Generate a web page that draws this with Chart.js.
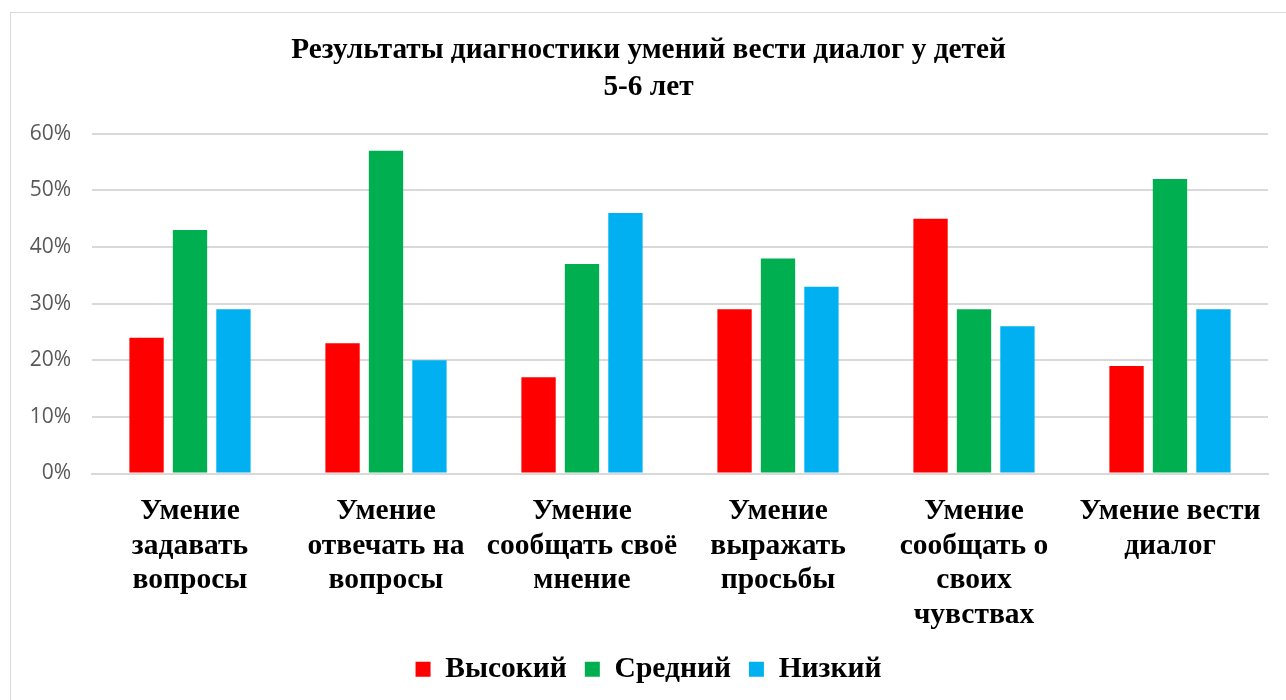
<!DOCTYPE html>
<html lang="ru">
<head>
<meta charset="utf-8">
<title>Результаты диагностики умений вести диалог</title>
<script src="https://cdn.jsdelivr.net/npm/chart.js@4"></script>
<style>
    html, body { margin: 0; padding: 0; background: #fff; overflow: hidden; }
    #frame {
        position: absolute; left: 10px; top: 12px;
        width: 1290px; height: 700px;
        border: 1px solid #d9d9d9; box-sizing: border-box;
    }
    #wrap { position: absolute; left: 0; top: 0; width: 1286px; height: 700px; }
</style>
</head>
<body>
<div id="frame"></div>
<div id="wrap"><canvas id="diagChart"></canvas></div>
<script>
// =============================================
// Данные диаграммы
// =============================================

var categories = [
    ["Умение", "задавать", "вопросы"],
    ["Умение", "отвечать на", "вопросы"],
    ["Умение", "сообщать своё", "мнение"],
    ["Умение", "выражать", "просьбы"],
    ["Умение", "сообщать о", "своих", "чувствах"],
    ["Умение вести", "диалог"]
];

var seriesNames = ["Высокий", "Средний", "Низкий"];
var highValues = [24, 23, 17, 29, 45, 19];
var mediumValues = [43, 57, 37, 38, 29, 52];
var lowValues = [29, 20, 46, 33, 26, 29];
var seriesColors = ["#ff0000", "#00b050", "#00b0f0"];

var titleLines = ["Результаты диагностики умений вести диалог у детей", "5-6 лет"];
var yTicks = [0, 10, 20, 30, 40, 50, 60];

// =============================================
// Построение диаграммы
// =============================================

var serif = "'Liberation Serif', 'Times New Roman', serif";
var allValues = [highValues, mediumValues, lowValues];

var datasets = [];
for (var i = 0; i < seriesNames.length; i++) {
    datasets.push({
        label: seriesNames[i],
        data: allValues[i],
        backgroundColor: seriesColors[i],
        borderWidth: 0,
        categoryPercentage: 0.665,
        barPercentage: 0.79
    });
}

var ctx = document.getElementById("diagChart");

new Chart(ctx, {
    type: "bar",
    data: { labels: categories, datasets: datasets },
    options: {
        responsive: true,
        maintainAspectRatio: false,
        animation: false,
        // левый отступ чуть больше, чтобы заголовок и легенда сместились к центру рамки
        layout: { padding: { left: 29, right: 18, top: 26, bottom: 6 } },
        plugins: {
            title: {
                display: true,
                text: titleLines,
                color: "#000",
                font: { family: serif, size: 29.3, weight: "bold", lineHeight: 1.26 },
                padding: { top: 6, bottom: 28 }
            },
            legend: {
                position: "bottom",
                labels: {
                    color: "#000",
                    font: { family: serif, size: 29.5, weight: "bold", lineHeight: 1.0 },
                    boxWidth: 15,
                    boxHeight: 15,
                    padding: 18
                }
            },
            tooltip: { enabled: false }
        },
        scales: {
            x: {
                afterFit: function(scale) { scale.height = 163; },
                grid: { display: false, drawTicks: false },
                border: { color: "#d9d9d9", width: 2 },
                ticks: {
                    color: "#000",
                    font: { family: serif, size: 29.5, weight: "bold", lineHeight: 1.17 },
                    padding: 21,
                    maxRotation: 0,
                    autoSkip: false
                }
            },
            y: {
                min: 0,
                max: 60,
                afterBuildTicks: function(scale) {
                    scale.ticks = yTicks.map(function(v) { return { value: v }; });
                },
                afterFit: function(scale) { scale.width = 63; },
                grid: { color: "#d9d9d9", lineWidth: 2, drawTicks: false },
                border: { display: false },
                ticks: {
                    color: "#595959",
                    font: { family: "'Open Sans', sans-serif", size: 21 },
                    padding: 21,
                    callback: function(v) { return v + "%"; }
                }
            }
        }
    }
});
</script>
</body>
</html>
